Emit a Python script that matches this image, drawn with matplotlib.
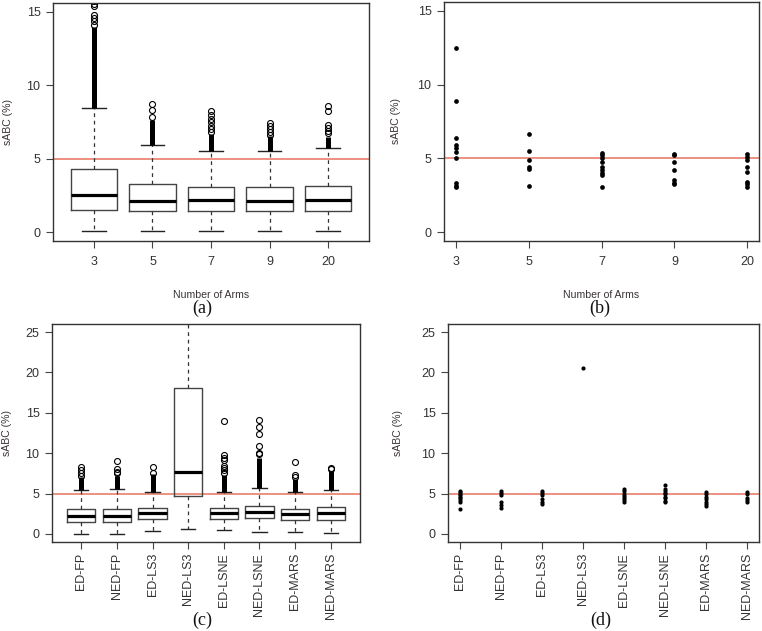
import numpy as np
import matplotlib
matplotlib.use("Agg")
import matplotlib.pyplot as plt

plt.rcParams['font.family'] = ['Liberation Sans', 'DejaVu Sans']

#%% data

arms = ['3', '5', '7', '9', '20']
a_q1 = [1.5, 1.45, 1.45, 1.45, 1.45]
a_med = [2.55, 2.15, 2.2, 2.15, 2.2]
a_q3 = [4.3, 3.27, 3.1, 3.1, 3.15]
a_lo = [0.1, 0.1, 0.05, 0.05, 0.1]
a_hi = [8.45, 5.95, 5.5, 5.55, 5.7]
# upper end of the solid run of outliers above each whisker
a_dense_top = [13.95, 7.65, 6.7, 6.55, 6.5]
a_out = [[14.1, 14.35, 14.6, 14.8, 15.4, 15.55, 15.75],
         [7.86, 8.3, 8.75],
         [6.85, 7.0, 7.25, 7.48, 7.7, 7.98, 8.25],
         [6.6, 6.8, 7.0, 7.2, 7.45],
         [6.75, 6.9, 7.1, 7.3, 8.25, 8.6]]

b_pts = [[12.5, 8.9, 6.41, 5.89, 5.68, 5.45, 5.0, 3.3, 3.16, 3.07],
         [6.66, 5.5, 4.86, 4.39, 4.27, 3.11],
         [5.39, 5.23, 5.0, 4.75, 4.39, 4.2, 4.02, 3.84, 3.07],
         [5.32, 5.2, 4.77, 4.23, 3.52, 3.34, 3.23],
         [5.27, 5.11, 4.86, 4.41, 4.09, 3.41, 3.27, 3.09]]

methods = ['ED-FP', 'NED-FP', 'ED-LS3', 'NED-LS3',
           'ED-LSNE', 'NED-LSNE', 'ED-MARS', 'NED-MARS']
c_q1 = [1.44, 1.45, 1.9, 4.7, 1.86, 1.94, 1.73, 1.77]
c_med = [2.19, 2.2, 2.6, 7.67, 2.64, 2.72, 2.47, 2.6]
c_q3 = [3.1, 3.1, 3.2, 18.07, 3.18, 3.47, 3.1, 3.3]
c_lo = [0.04, 0.05, 0.4, 0.62, 0.54, 0.2, 0.2, 0.12]
c_hi = [5.49, 5.57, 5.15, 32.0, 5.2, 5.7, 5.15, 5.5]
c_dense_top = [7.0, 7.2, 7.4, np.nan, 7.27, 9.46, 6.86, 7.8]
c_out = [[7.18, 7.55, 7.88, 8.25],
         [7.5, 7.7, 8.0, 9.0],
         [7.55, 8.29],
         [],
         [7.6, 7.89, 8.14, 8.42, 9.13, 9.41, 9.74, 13.99],
         [9.87, 10.07, 10.9, 12.43, 13.25, 14.1],
         [7.06, 7.27, 8.96],
         [8.0, 8.22]]

d_pts = [[5.35, 5.2, 5.0, 4.85, 4.6, 4.4, 4.2, 4.0, 3.05],
         [5.35, 5.05, 4.8, 4.0, 3.6, 3.27],
         [5.35, 5.1, 4.85, 4.3, 4.0, 3.75],
         [20.6],
         [5.55, 5.3, 5.0, 4.7, 4.4, 4.15, 3.9],
         [6.12, 5.55, 5.35, 5.1, 4.9, 4.6, 4.4, 4.1, 3.9],
         [5.2, 4.9, 4.6, 4.3, 4.0, 3.7, 3.4],
         [5.2, 4.9, 4.5, 4.2, 3.9]]

ref_line = 5
red = '#e8735f'
txt = '#3a3333'

#%%

def style_axes(ax):
    for s in ax.spines.values():
        s.set_color('#333333')
        s.set_linewidth(1.0)
    ax.tick_params(direction='out', length=5, width=0.8, color='#444444',
                   labelsize=9, labelcolor='#333333')
    ax.tick_params(axis='y', pad=4)
    ax.axhline(ref_line, color=red, lw=1.1, zorder=1)


def draw_box(ax, q1, med, q3, lo, hi, dense_top, out):
    stats = []
    for i in range(len(q1)):
        stats.append(dict(q1=q1[i], med=med[i], q3=q3[i], whislo=lo[i],
                          whishi=hi[i], fliers=out[i]))
    pos = np.arange(1, len(q1) + 1)
    ax.bxp(stats, positions=pos, widths=0.8, capwidths=0.4, showfliers=True,
           boxprops=dict(color='#444444', lw=1.0),
           medianprops=dict(color='black', lw=2.3),
           whiskerprops=dict(color='#333333', lw=0.9, linestyle=(0, (3, 3))),
           capprops=dict(color='#222222', lw=1.0),
           flierprops=dict(marker='o', mfc='none', mec='black', ms=4.3, mew=0.8))
    ax.vlines(pos, hi, dense_top, color='black', lw=3.6, zorder=3)
    return pos


def draw_points(ax, pts, ms):
    for i, p in enumerate(pts):
        ax.plot([i + 1] * len(p), p, 'o', color='black', ms=ms, mew=0, zorder=3)


fig = plt.figure(figsize=(7.62, 6.31), dpi=100)
W, H = 762.0, 631.0

def add_ax(l, r, t, b):
    return fig.add_axes([l / W, 1 - b / H, (r - l) / W, (b - t) / H])

ax_a = add_ax(53, 369, 3, 241)
ax_b = add_ax(444, 759, 2, 241)
ax_c = add_ax(52, 360, 324, 542)
ax_d = add_ax(448, 759, 324, 542)

# (a)
style_axes(ax_a)
pos = draw_box(ax_a, a_q1, a_med, a_q3, a_lo, a_hi, a_dense_top, a_out)
ax_a.set_xticks(pos, arms)
ax_a.set_xlim(0.3, 5.7)
ax_a.set_ylim(-0.6, 15.6)
ax_a.set_yticks([0, 5, 10, 15])

# (b)
style_axes(ax_b)
draw_points(ax_b, b_pts, 3.4)
ax_b.set_xticks(np.arange(1, 6), arms)
ax_b.set_xlim(0.84, 5.16)
ax_b.set_ylim(-0.6, 15.6)
ax_b.set_yticks([0, 5, 10, 15])

for ax, xc in [(ax_a, -0.128), (ax_b, -0.135)]:
    ax.tick_params(axis='x', pad=6)
    ax.set_xlabel('Number of Arms', fontsize=7.6, color=txt)
    ax.xaxis.set_label_coords(0.5, -0.206)
    ax.set_ylabel('sABC (%)', fontsize=7.6, color=txt)
    ax.yaxis.set_label_coords(xc, 0.5)

# (c)
style_axes(ax_c)
pos = draw_box(ax_c, c_q1, c_med, c_q3, c_lo, c_hi, c_dense_top, c_out)
ax_c.set_xticks(pos, methods, rotation=90)
ax_c.set_xlim(0.18, 8.82)
ax_c.set_ylim(-1, 26)
ax_c.set_yticks([0, 5, 10, 15, 20, 25])

# (d)
style_axes(ax_d)
draw_points(ax_d, d_pts, 3.0)
ax_d.set_xticks(np.arange(1, 9), methods, rotation=90)
ax_d.set_xlim(0.72, 8.28)
ax_d.set_ylim(-1, 26)
ax_d.set_yticks([0, 5, 10, 15, 20, 25])

for ax, xc in [(ax_c, -0.13), (ax_d, -0.145)]:
    ax.tick_params(axis='x', pad=3)
    ax.set_ylabel('sABC (%)', fontsize=7.6, color=txt)
    ax.yaxis.set_label_coords(xc, 0.5)

# panel letters
for lab, x, y in [('(a)', 202, 308), ('(b)', 600, 308),
                  ('(c)', 202, 620), ('(d)', 601, 620)]:
    fig.text(x / W, 1 - y / H, lab, ha='center', va='center', fontsize=13,
             family=['Liberation Serif', 'DejaVu Serif'], color='#111111')

fig.savefig('out.png', dpi=100)
